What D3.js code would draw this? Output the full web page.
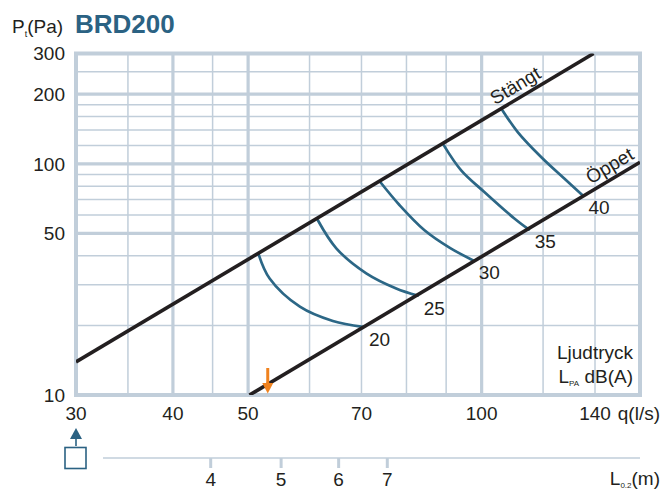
<!DOCTYPE html>
<html>
<head>
<meta charset="utf-8">
<script src="https://cdn.jsdelivr.net/npm/d3@7"></script>
<style>
  html, body { margin: 0; padding: 0; background: #fff; }
  svg { display: block; }
  text { font-family: "Liberation Sans", Arial, Helvetica, sans-serif; fill: #231f20; }
</style>
</head>
<body>
<svg id="chart" width="670" height="489"></svg>
<script>
// ---------- data ----------
const title = "BRD200";
const xDomain = [30, 160];
const yDomain = [10, 300];
const xTickLabels = [30, 40, 50, 70, 100, 140];
const yTickLabels = [10, 50, 100, 200, 300];
const xGridThin = [35, 45, 60, 70, 80, 90, 120, 140];
const xGridThick = [40, 50, 100];
const yGridThin = [20, 30, 40, 60, 70, 80, 90, 120, 140, 160, 180, 250];
const yGridThick = [50, 100, 200];

// damper lines (q l/s, Pt Pa)
const stangt = [[30, 13.9], [139.4, 300]];
const oppet = [[50.2, 10], [160, 101.6]];

// sound level curves, LPA dB(A)
const levels = [20, 25, 30, 35, 40];
const curve20 = [[51.6, 40.5], [53.3, 31.9], [58.3, 24.1], [64.3, 20.9], [70.3, 19.7]];
const curve25 = [[61.5, 57.0], [65.0, 43.0], [71.0, 33.6], [77.6, 28.9], [82.7, 26.9]];
const curve30 = [[74.1, 83.0], [78.4, 66.2], [84.4, 51.6], [91.0, 43.3], [97.4, 38.3]];
const curve35 = [[89.4, 120.2], [94.1, 93.7], [100.8, 75.5], [110.2, 58.0], [115.0, 52.0]];
const curve40 = [[106.4, 170.2], [111.3, 137.2], [119.3, 107.0], [127.8, 86.3], [134.9, 73.1]];
const curves = [curve20, curve25, curve30, curve35, curve40];

const arrowQ = 53;          // orange marker on the q axis
const lTicks = [4, 5, 6, 7]; // L0.2 (m) scale
const lDomain = [4, 7];

// ---------- styles ----------
const gridColor = "#c1ceda";
const lineColor = "#231f20";
const blue = "#2c6786";
const titleBlue = "#2b6283";
const orange = "#f0821e";
const fs = 19;

const svg = d3.select("#chart");
const plot = { left: 76, right: 640, top: 53.5, bottom: 395 };

const x = d3.scaleLog().domain(xDomain).range([plot.left, plot.right]);
const y = d3.scaleLog().domain(yDomain).range([plot.bottom, plot.top]);

// ---------- grid ----------
const g = svg.append("g");
g.selectAll(".vthin").data(xGridThin).join("line")
  .attr("x1", d => x(d)).attr("x2", d => x(d))
  .attr("y1", plot.top).attr("y2", plot.bottom)
  .attr("stroke", gridColor).attr("stroke-width", 1.5);
g.selectAll(".hthin").data(yGridThin).join("line")
  .attr("y1", d => y(d)).attr("y2", d => y(d))
  .attr("x1", plot.left).attr("x2", plot.right)
  .attr("stroke", gridColor).attr("stroke-width", 1.5);
g.selectAll(".vthick").data(xGridThick).join("line")
  .attr("x1", d => x(d)).attr("x2", d => x(d))
  .attr("y1", plot.top).attr("y2", plot.bottom)
  .attr("stroke", gridColor).attr("stroke-width", 3.2);
g.selectAll(".hthick").data(yGridThick).join("line")
  .attr("y1", d => y(d)).attr("y2", d => y(d))
  .attr("x1", plot.left).attr("x2", plot.right)
  .attr("stroke", gridColor).attr("stroke-width", 3.2);
g.append("rect")
  .attr("x", plot.left).attr("y", plot.top)
  .attr("width", plot.right - plot.left).attr("height", plot.bottom - plot.top)
  .attr("fill", "none").attr("stroke", gridColor).attr("stroke-width", 4);

// ---------- clip ----------
svg.append("clipPath").attr("id", "clip").append("rect")
  .attr("x", plot.left).attr("y", plot.top)
  .attr("width", plot.right - plot.left).attr("height", plot.bottom - plot.top);

const straight = d3.line().x(d => x(d[0])).y(d => y(d[1]));
const smooth = d3.line().x(d => x(d[0])).y(d => y(d[1])).curve(d3.curveCatmullRom.alpha(0.5));

const marks = svg.append("g").attr("clip-path", "url(#clip)");
marks.selectAll(".lvl").data(curves).join("path")
  .attr("d", smooth).attr("fill", "none")
  .attr("stroke", blue).attr("stroke-width", 2.7).attr("stroke-linecap", "round");
[stangt, oppet].forEach(ln => {
  marks.append("path").attr("d", straight(ln)).attr("fill", "none")
    .attr("stroke", lineColor).attr("stroke-width", 3.6);
});

// level labels
svg.selectAll(".lvlLabel").data(levels).join("text")
  .attr("x", (d, i) => x(curves[i][curves[i].length - 1][0]) + 6)
  .attr("y", (d, i) => y(curves[i][curves[i].length - 1][1]) + 19)
  .attr("font-size", fs).text(d => d);

// line labels (rotated along the lines)
function lineLabel(ln, q, text) {
  const k = (ln[1][1] / ln[0][1]);
  const slope = Math.log(k) / Math.log(ln[1][0] / ln[0][0]);
  const p = ln[0][1] * Math.pow(q / ln[0][0], slope);
  const q2 = q * 1.2, p2 = ln[0][1] * Math.pow(q2 / ln[0][0], slope);
  const ang = Math.atan2(y(p2) - y(p), x(q2) - x(q)) * 180 / Math.PI;
  svg.append("text")
    .attr("transform", `translate(${x(q)},${y(p)}) rotate(${ang})`)
    .attr("x", 0).attr("y", -6).attr("font-size", fs).text(text);
}
lineLabel(stangt, 105, "Stängt");
lineLabel(oppet, 139.5, "Öppet");

// ---------- axes labels ----------
svg.selectAll(".yt").data(yTickLabels).join("text")
  .attr("x", 65).attr("y", d => y(d)).attr("dy", "0.36em")
  .attr("text-anchor", "end").attr("font-size", fs).text(d => d);
svg.selectAll(".xt").data(xTickLabels).join("text")
  .attr("x", d => x(d)).attr("y", 420)
  .attr("text-anchor", "middle").attr("font-size", fs).text(d => d);
svg.append("text").attr("x", 660).attr("y", 420).attr("text-anchor", "end")
  .attr("font-size", fs).text("q(l/s)");

// y-axis title + chart title
const yl = svg.append("text").attr("x", 12).attr("y", 33).attr("font-size", fs);
yl.append("tspan").text("P");
yl.append("tspan").attr("font-size", 9).attr("dy", 4).text("t");
yl.append("tspan").attr("dy", -4).text("(Pa)");
svg.append("text").attr("x", 75).attr("y", 33)
  .attr("font-size", 26).attr("font-weight", "bold")
  .style("fill", titleBlue).text(title);

// legend text
svg.append("text").attr("x", 633).attr("y", 359).attr("text-anchor", "end")
  .attr("font-size", fs).text("Ljudtryck");
const lp = svg.append("text").attr("x", 633).attr("y", 383)
  .attr("text-anchor", "end").attr("font-size", fs);
lp.append("tspan").text("L");
lp.append("tspan").attr("font-size", 8).attr("dy", 3).text("PA");
lp.append("tspan").attr("dy", -3).text(" dB(A)");

// orange arrow
const ax = x(arrowQ);
svg.append("line").attr("x1", ax).attr("x2", ax).attr("y1", 368).attr("y2", 385)
  .attr("stroke", orange).attr("stroke-width", 3);
svg.append("path")
  .attr("d", `M${ax - 5.5},383 L${ax + 5.5},383 L${ax},393.5 Z`)
  .attr("fill", orange);

// ---------- bottom L0.2 scale ----------
const lx = d3.scaleLog().domain(lDomain).range([210.7, 387.3]);
svg.append("line").attr("x1", 103).attr("x2", 640).attr("y1", 458).attr("y2", 458)
  .attr("stroke", gridColor).attr("stroke-width", 1.5);
svg.selectAll(".ltick").data(lTicks).join("line")
  .attr("x1", d => lx(d)).attr("x2", d => lx(d)).attr("y1", 458).attr("y2", 468)
  .attr("stroke", gridColor).attr("stroke-width", 3);
svg.selectAll(".llab").data(lTicks).join("text")
  .attr("x", d => lx(d)).attr("y", 486).attr("text-anchor", "middle")
  .attr("font-size", fs).text(d => d);
const ll = svg.append("text").attr("x", 660).attr("y", 485)
  .attr("text-anchor", "end").attr("font-size", fs);
ll.append("tspan").text("L");
ll.append("tspan").attr("font-size", 8).attr("dy", 3).text("0.2");
ll.append("tspan").attr("dy", -3).text("(m)");

// square with up arrow
svg.append("rect").attr("x", 65).attr("y", 447.5).attr("width", 21).attr("height", 21)
  .attr("fill", "none").attr("stroke", titleBlue).attr("stroke-width", 1.6);
svg.append("line").attr("x1", 76).attr("x2", 76).attr("y1", 437).attr("y2", 446)
  .attr("stroke", titleBlue).attr("stroke-width", 1.6);
svg.append("path").attr("d", "M70,439 L82,439 L76,428 Z").attr("fill", titleBlue);
</script>
</body>
</html>
